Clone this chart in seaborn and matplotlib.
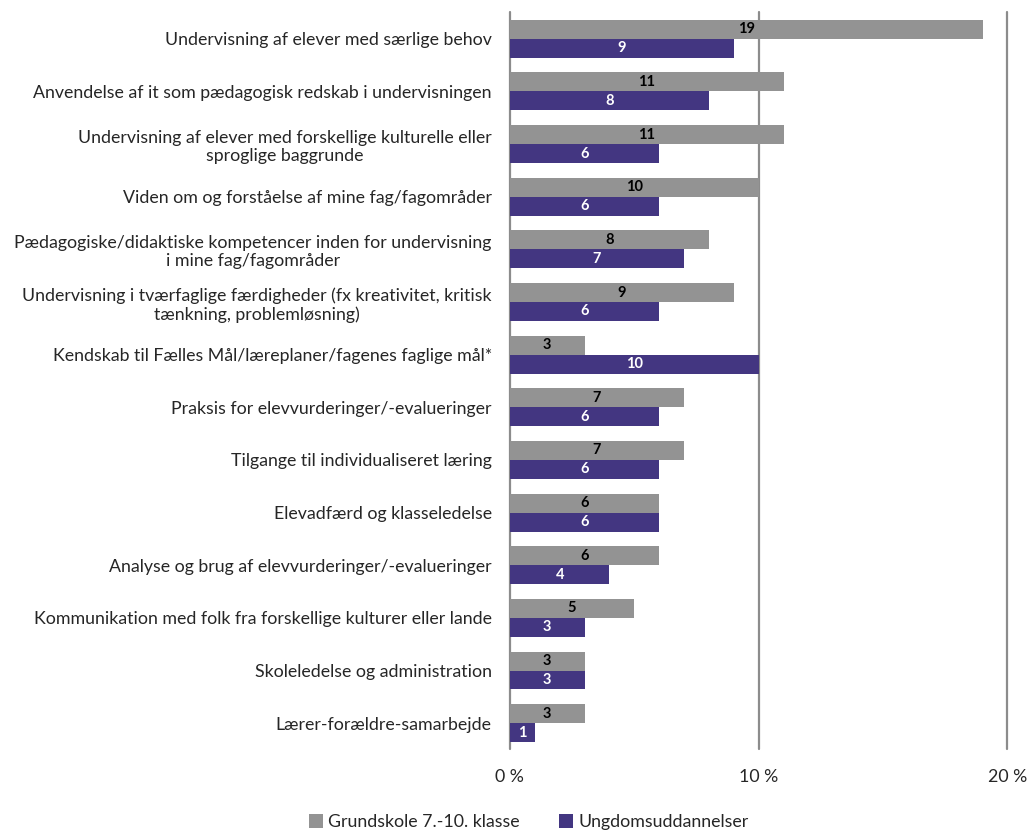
import pandas as pd
import numpy as np
import matplotlib as mpl
from matplotlib import pyplot as plt
import seaborn as sns

categories = [
    "Undervisning af elever med særlige behov",
    "Anvendelse af it som pædagogisk redskab i undervisningen",
    "Undervisning af elever med forskellige kulturelle eller\nsproglige baggrunde",
    "Viden om og forståelse af mine fag/fagområder",
    "Pædagogiske/didaktiske kompetencer inden for undervisning\ni mine fag/fagområder",
    "Undervisning i tværfaglige færdigheder (fx kreativitet, kritisk\ntænkning, problemløsning)",
    "Kendskab til Fælles Mål/læreplaner/fagenes faglige mål*",
    "Praksis for elevvurderinger/-evalueringer",
    "Tilgange til individualiseret læring",
    "Elevadfærd og klasseledelse",
    "Analyse og brug af elevvurderinger/-evalueringer",
    "Kommunikation med folk fra forskellige kulturer eller lande",
    "Skoleledelse og administration",
    "Lærer-forældre-samarbejde",
]
grundskole = [19, 11, 11, 10, 8, 9, 3, 7, 7, 6, 6, 5, 3, 3]
ungdom = [9, 8, 6, 6, 7, 6, 10, 6, 6, 6, 4, 3, 3, 1]
series = ["Grundskole 7.-10. klasse", "Ungdomsuddannelser"]
colors = ["#939393", "#433681"]
xticks = [0, 10, 20]

df = pd.DataFrame({
    "Kategori": categories * 2,
    "Værdi": grundskole + ungdom,
    "Gruppe": [series[0]] * len(categories) + [series[1]] * len(categories),
})

sns.set_style("white")
plt.rcParams["font.family"] = ["Lato", "DejaVu Sans"]

fig = plt.figure(figsize=(10.28, 8.3), dpi=100)
ax = fig.add_axes([0.496, 0.097, 0.484, 0.888])

sns.barplot(data=df, y="Kategori", x="Værdi", hue="Gruppe", orient="h",
            palette=colors, width=0.72, gap=0, ax=ax, legend=True,
            saturation=1, linewidth=0)

# gridlines at 0, 10, 20
for t in xticks:
    ax.axvline(t, color="#8c8c8c", lw=1.6, zorder=0, clip_on=False)

ax.set_xlim(0, 20)
ax.set_xticks(xticks)
ax.set_xticklabels([f"{t} %" for t in xticks], fontsize=12.8)
ax.tick_params(axis="x", length=0, pad=14)
ax.tick_params(axis="y", length=0, pad=13)
ax.set_yticklabels(categories, fontsize=12.8, ha="right", multialignment="center")
ax.set_xlabel("")
ax.set_ylabel("")
sns.despine(ax=ax, left=True, bottom=True, top=True, right=True)

# value labels
for i, cont in enumerate(ax.containers):
    ax.bar_label(cont, label_type="center", fontsize=10.5, fontweight="bold",
                 color="black" if i == 0 else "white")

leg = ax.legend(loc="center", bbox_to_anchor=(0.038, -0.099), ncol=2,
                frameon=False, fontsize=12.8, handlelength=0.8, handleheight=0.8,
                handletextpad=0.3, columnspacing=2.2)

fig.savefig("out.png", dpi=100)
